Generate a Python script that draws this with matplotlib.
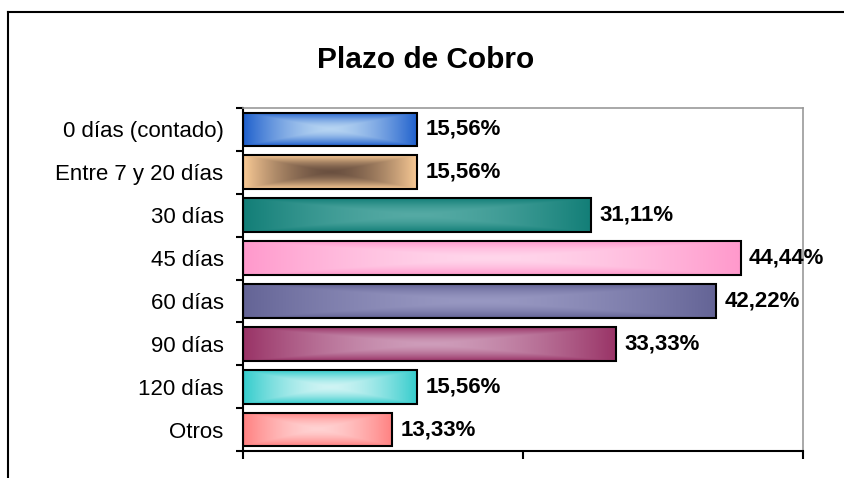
import numpy as np
import matplotlib
matplotlib.use("Agg")
import matplotlib.pyplot as plt
from matplotlib.colors import to_rgb
from matplotlib.lines import Line2D

plt.rcParams['font.family'] = ['Liberation Sans', 'DejaVu Sans']

categories = ["0 días (contado)", "Entre 7 y 20 días", "30 días", "45 días",
              "60 días", "90 días", "120 días", "Otros"]
values = [15.56, 15.56, 31.11, 44.44, 42.22, 33.33, 15.56, 13.33]
value_labels = ["15,56%", "15,56%", "31,11%", "44,44%", "42,22%", "33,33%", "15,56%", "13,33%"]
edge_colors = ["#1E5FCC", "#FACB96", "#127E77", "#FF99CC", "#646496", "#993366", "#33CCCC", "#FF8080"]
center_colors = ["#B6D4F2", "#6A5040", "#55AAA4", "#FFD6EB", "#9898C2", "#CE9DBA", "#CFF4F4", "#FFD2D2"]
title = "Plazo de Cobro"

fig = plt.figure(figsize=(8.44, 4.78), dpi=100)
ax = fig.add_axes([243/844, 1-451/478, (803-243)/844, (451-108)/478])

y = np.arange(len(categories))
bars = ax.barh(y, values, height=0.79, facecolor='none', edgecolor='black', linewidth=1.5, zorder=3)

# gradient fills (rectangular, from centre)
ny, nx = 60, 300
gx = np.linspace(-1, 1, nx)
gy = np.linspace(-1, 1, ny)
GX, GY = np.meshgrid(gx, gy)
d = np.maximum(np.abs(GX), np.abs(GY))
t = np.clip(d, 0, 1) ** 1.6
for bar, ec, cc in zip(bars, edge_colors, center_colors):
    e = np.array(to_rgb(ec)); c = np.array(to_rgb(cc))
    img = c[None, None, :] * (1 - t[..., None]) + e[None, None, :] * t[..., None]
    x0 = bar.get_x(); w = bar.get_width(); yb = bar.get_y(); h = bar.get_height()
    im = ax.imshow(img, extent=(x0, x0 + w, yb + h, yb), aspect='auto',
                   interpolation='bilinear', zorder=2)
    im.set_clip_path(bar)

for bar, lab in zip(bars, value_labels):
    ax.annotate(lab, (bar.get_width(), bar.get_y() + bar.get_height() / 2),
                xytext=(6, 0), textcoords='offset points', va='center', ha='left',
                fontsize=16, fontweight='bold', zorder=4)

ax.set_xlim(0, 50)
ax.set_ylim(len(categories) - 0.5, -0.5)
ax.set_xticks([0, 25, 50])
ax.set_xticklabels([])
ax.tick_params(axis='x', direction='out', length=6, width=1.5, color='black')
ax.set_yticks(np.arange(-0.5, len(categories), 1))
ax.set_yticklabels([])
ax.set_yticks(y, minor=True)
ax.set_yticklabels(categories, minor=True)
ax.tick_params(axis='y', which='major', direction='out', length=5, width=1.5)
ax.tick_params(axis='y', which='minor', length=0, pad=14, labelsize=16)

for s in ['left', 'bottom']:
    ax.spines[s].set_color('black'); ax.spines[s].set_linewidth(1.5)
for s in ['top', 'right']:
    ax.spines[s].set_color('#999999'); ax.spines[s].set_linewidth(1.2)

fig.text(426/844, 1 - 60/478, title, ha='center', va='center', fontsize=21.5, fontweight='bold')

# outer chart border (partially visible)
fig.add_artist(Line2D([8/844, 8/844], [0, 1 - 12/478], color='black', lw=1.5, transform=fig.transFigure))
fig.add_artist(Line2D([8/844, 1], [1 - 12/478, 1 - 12/478], color='black', lw=1.5, transform=fig.transFigure))

fig.savefig("out.png", dpi=100)
